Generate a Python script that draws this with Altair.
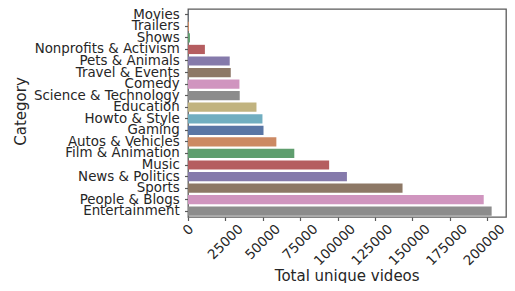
import altair as alt
import pandas as pd

categories = [
    "Movies", "Trailers", "Shows", "Nonprofits & Activism", "Pets & Animals",
    "Travel & Events", "Comedy", "Science & Technology", "Education",
    "Howto & Style", "Gaming", "Autos & Vehicles", "Film & Animation",
    "Music", "News & Politics", "Sports", "People & Blogs", "Entertainment",
]
total_unique_videos = [
    120, 650, 1300, 11300, 27900,
    28600, 34400, 34600, 45800,
    49800, 50500, 59100, 71100,
    94400, 106300, 143500, 197800, 203100,
]
x_ticks = [0, 25000, 50000, 75000, 100000, 125000, 150000, 175000, 200000]

palette = ["#5975a4", "#cc8963", "#5f9e6e", "#b55d60", "#857aab",
           "#8d7866", "#d095bf", "#8c8c8c", "#c1b37f", "#71aec0"]
bar_colors = [palette[i % len(palette)] for i in range(len(categories))]

df = pd.DataFrame({"Category": categories, "Total unique videos": total_unique_videos})

FONT = "DejaVu Sans"
TXT = "#262626"
W, H = 318, 208

chart = (
    alt.Chart(df)
    .mark_bar()
    .encode(
        y=alt.Y(
            "Category:N",
            sort=categories,
            scale=alt.Scale(paddingInner=0.2, paddingOuter=0.1),
            axis=alt.Axis(
                title="Category",
                labelFontSize=13.4,
                titleFontSize=15,
                labelPadding=5.2,
                tickSize=3.5,
                labelOverlap=False,
                titleAngle=270,
                titleAlign="center",
                titleBaseline="alphabetic",
                titleX=-162.5,
                titleY=102,
            ),
        ),
        x=alt.X(
            "Total unique videos:Q",
            scale=alt.Scale(domain=[0, 212700], nice=False, zero=True),
            axis=alt.Axis(
                title="Total unique videos",
                values=x_ticks,
                format="d",
                labelAngle=-45,
                labelAlign="right",
                labelBaseline="middle",
                labelFontSize=13.5,
                titleFontSize=15,
                tickSize=3.5,
                labelPadding=6,
                labelOverlap=False,
                labelOffset={
                    "condition": [
                        {"test": "datum.value == 0", "value": 3},
                        {"test": "datum.value < 100000", "value": 15},
                    ],
                    "value": 15.2},
                titleAlign="center",
                titleBaseline="alphabetic",
                titleX=158.7,
                titleY=63,
            ),
        ),
        color=alt.Color(
            "Category:N",
            scale=alt.Scale(domain=categories, range=bar_colors),
            legend=None,
        ),
    )
    .properties(
        width=W,
        height=H,
        autosize=alt.AutoSizeParams(type="none"),
        padding={"left": 180, "top": 1, "right": 1, "bottom": 66},
    )
    .configure_view(stroke="#5a5a5a", strokeWidth=1.3)
    .configure_axis(
        domain=False,
        grid=False,
        labelFont=FONT,
        titleFont=FONT,
        labelColor=TXT,
        titleColor=TXT,
        titleFontWeight="normal",
        tickColor="#5a5a5a",
        tickWidth=1.2,
    )
)

chart.save("out.html", embed_options={"renderer": "svg", "actions": False})
